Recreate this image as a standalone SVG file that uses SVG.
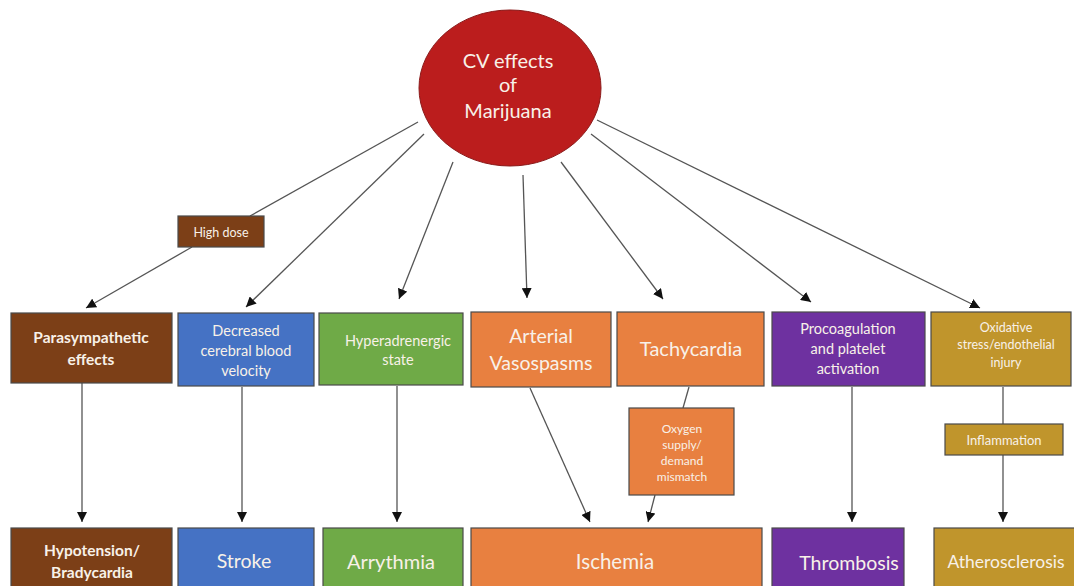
<svg xmlns="http://www.w3.org/2000/svg" width="1074" height="586" viewBox="0 0 1074 586">
<defs>
<marker id="arr" markerUnits="userSpaceOnUse" markerWidth="10" markerHeight="10" refX="10" refY="5" orient="auto" viewBox="0 0 10 10">
<path d="M0,0 L10,5 L0,10 z" fill="#111"/>
</marker>
<style>
.box{stroke:#4a4a4a;stroke-width:1.2}
.t{font-family:Lato,"Open Sans","Liberation Sans",sans-serif;fill:#f8f1e8;text-anchor:middle;dominant-baseline:central}
.c{stroke:#555;stroke-width:1.3;fill:none}
.a{marker-end:url(#arr)}
.brown{fill:#7c3f17}
.blue{fill:#4572c4}
.green{fill:#6faa47}
.orange{fill:#e88040}
.purple{fill:#6e31a0}
.gold{fill:#c0952c}
</style>
</defs>
<rect width="1074" height="586" fill="#ffffff"/>

<g id="connectors">
<line class="c" x1="418" y1="122" x2="250" y2="216"/>
<line class="c a" x1="192" y1="247" x2="86" y2="308"/>
<line class="c a" x1="424" y1="134" x2="246" y2="307"/>
<line class="c a" x1="453" y1="162" x2="399" y2="299"/>
<line class="c a" x1="523" y1="175" x2="527" y2="298"/>
<line class="c a" x1="561" y1="162" x2="663" y2="299"/>
<line class="c a" x1="591" y1="134" x2="811" y2="302"/>
<line class="c a" x1="597" y1="120" x2="980" y2="308"/>
<line class="c a" x1="82" y1="383" x2="82" y2="522"/>
<line class="c a" x1="242" y1="387" x2="242" y2="522"/>
<line class="c a" x1="397" y1="386" x2="397" y2="522"/>
<line class="c a" x1="530" y1="388" x2="590" y2="522"/>
<line class="c" x1="689" y1="387" x2="683" y2="408"/>
<line class="c a" x1="655" y1="495" x2="648" y2="522"/>
<line class="c a" x1="852" y1="387" x2="852" y2="522"/>
<line class="c" x1="1003" y1="387" x2="1003" y2="424"/>
<line class="c a" x1="1003" y1="455" x2="1003" y2="522"/>
</g>

<g id="cv-effects">
<ellipse cx="510" cy="88" rx="91" ry="78" fill="#bb1d1d" stroke="#8a1a1a" stroke-width="1"/>
<text class="t" x="508" y="60" font-size="20">CV effects</text>
<text class="t" x="508" y="84" font-size="20">of</text>
<text class="t" x="508" y="110" font-size="20">Marijuana</text>
</g>

<g id="high-dose">
<rect class="box brown" x="178" y="216" width="86" height="31"/>
<text class="t" x="221" y="232" font-size="12.5">High dose</text>
</g>

<g id="parasympathetic">
<rect class="box brown" x="11" y="313" width="161" height="70"/>
<text class="t" x="91" y="337" font-size="15.5" font-weight="bold">Parasympathetic</text>
<text class="t" x="91" y="359" font-size="15.5" font-weight="bold">effects</text>
</g>

<g id="decreased-cbv">
<rect class="box blue" x="178" y="313" width="136" height="73"/>
<text class="t" x="246" y="330" font-size="14.5">Decreased</text>
<text class="t" x="246" y="350" font-size="14.5">cerebral blood</text>
<text class="t" x="246" y="370" font-size="14.5">velocity</text>
</g>

<g id="hyperadrenergic">
<rect class="box green" x="319" y="313" width="144" height="72"/>
<text class="t" x="398" y="340" font-size="14.5">Hyperadrenergic</text>
<text class="t" x="398" y="359" font-size="14.5">state</text>
</g>

<g id="arterial-vasospasms">
<rect class="box orange" x="471" y="312" width="140" height="75"/>
<text class="t" x="541" y="335" font-size="19.5">Arterial</text>
<text class="t" x="541" y="362" font-size="19.5">Vasospasms</text>
</g>

<g id="tachycardia">
<rect class="box orange" x="617" y="312" width="147" height="74"/>
<text class="t" x="691" y="348" font-size="20">Tachycardia</text>
</g>

<g id="procoagulation">
<rect class="box purple" x="772" y="312" width="153" height="74"/>
<text class="t" x="848" y="328" font-size="14.5">Procoagulation</text>
<text class="t" x="848" y="348" font-size="14.5">and platelet</text>
<text class="t" x="848" y="368" font-size="14.5">activation</text>
</g>

<g id="oxidative-stress">
<rect class="box gold" x="931" y="312" width="140" height="74"/>
<text class="t" x="1006" y="327" font-size="12.5">Oxidative</text>
<text class="t" x="1006" y="344" font-size="12.5">stress/endothelial</text>
<text class="t" x="1006" y="362" font-size="12.5">injury</text>
</g>

<g id="oxygen-mismatch">
<rect class="box orange" x="629" y="408" width="105" height="87"/>
<text class="t" x="682" y="428" font-size="12">Oxygen</text>
<text class="t" x="682" y="444" font-size="12">supply/</text>
<text class="t" x="682" y="460" font-size="12">demand</text>
<text class="t" x="682" y="476" font-size="12">mismatch</text>
</g>

<g id="inflammation">
<rect class="box gold" x="945" y="424" width="118" height="31"/>
<text class="t" x="1004" y="440" font-size="13">Inflammation</text>
</g>

<g id="hypotension">
<rect class="box brown" x="11" y="528" width="161" height="64"/>
<text class="t" x="92" y="550" font-size="15.5" font-weight="bold">Hypotension/</text>
<text class="t" x="92" y="572" font-size="15.5" font-weight="bold">Bradycardia</text>
</g>

<g id="stroke">
<rect class="box blue" x="178" y="528" width="136" height="64"/>
<text class="t" x="244" y="560" font-size="19.5">Stroke</text>
</g>

<g id="arrythmia">
<rect class="box green" x="323" y="528" width="140" height="64"/>
<text class="t" x="391" y="561" font-size="20">Arrythmia</text>
</g>

<g id="ischemia">
<rect class="box orange" x="471" y="528" width="291" height="64"/>
<text class="t" x="615" y="561" font-size="20.5">Ischemia</text>
</g>

<g id="thrombosis">
<rect class="box purple" x="772" y="528" width="132" height="64"/>
<text class="t" x="849" y="562" font-size="19.5">Thrombosis</text>
</g>

<g id="atherosclerosis">
<rect class="box gold" x="934" y="528" width="145" height="64"/>
<text class="t" x="1006" y="561" font-size="17.5">Atherosclerosis</text>
</g>
</svg>
